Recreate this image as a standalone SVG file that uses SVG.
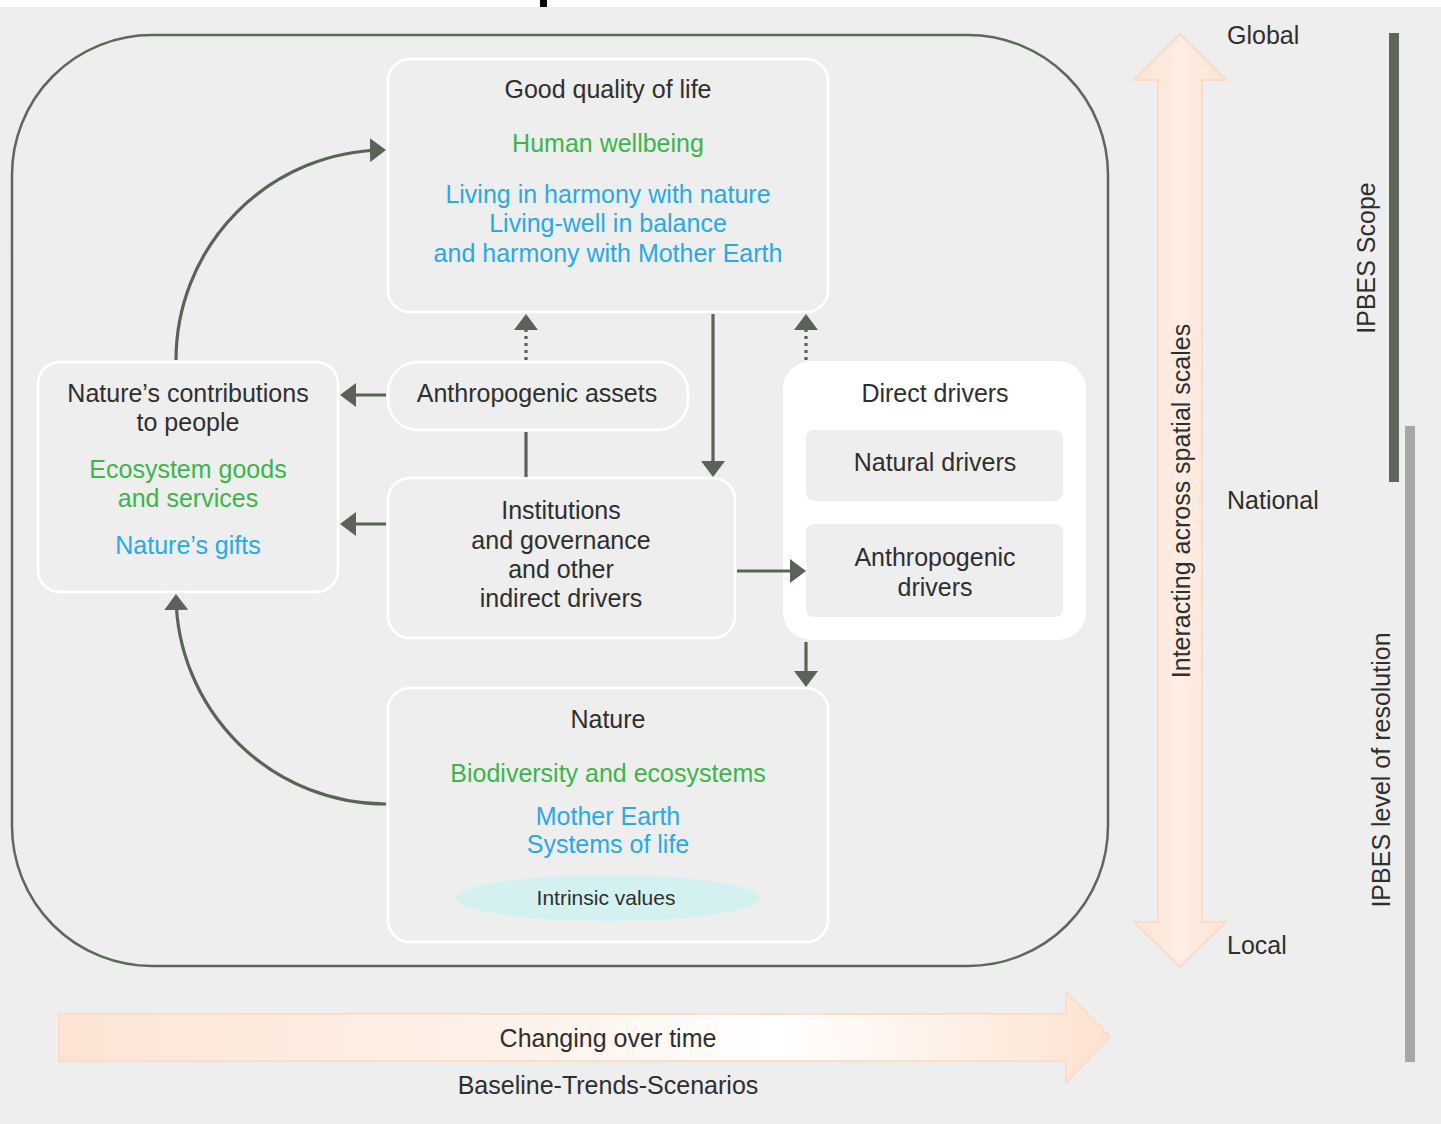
<svg xmlns="http://www.w3.org/2000/svg" width="1441" height="1124" viewBox="0 0 1441 1124">
<style>
text{font-family:"Liberation Sans",Arial,sans-serif;font-size:25px;fill:#2f2f2f;text-anchor:middle}
.g{fill:#3cb54a}
.b{fill:#29aae2}
.l{text-anchor:start}
.box{fill:none;stroke:#ffffff;stroke-width:2.5}
.inner{fill:#eeeeee;stroke:none}
.con{fill:none;stroke:#5b6257;stroke-width:3.2}
.dot{stroke-dasharray:3,4}
</style>
<defs>
<marker id="ah" markerUnits="userSpaceOnUse" markerWidth="17" markerHeight="24" refX="13" refY="12" orient="auto">
<path d="M0,0 L16,12 L0,24 z" fill="#5b6257"/>
</marker>
<linearGradient id="hg" x1="59" y1="0" x2="1110" y2="0" gradientUnits="userSpaceOnUse">
<stop offset="0" stop-color="#fde4d4"/>
<stop offset="0.45" stop-color="#fef2ea"/>
<stop offset="0.68" stop-color="#ffffff"/>
<stop offset="1" stop-color="#fde2d0"/>
</linearGradient>
<linearGradient id="vg" x1="1134" y1="0" x2="1226" y2="0" gradientUnits="userSpaceOnUse">
<stop offset="0" stop-color="#fde4d5"/>
<stop offset="0.5" stop-color="#fdede4"/>
<stop offset="1" stop-color="#fde4d5"/>
</linearGradient>
</defs>

<rect x="0" y="0" width="1441" height="1124" fill="#ffffff"/>
<rect x="0" y="7" width="1441" height="1117" fill="#edeeed"/>
<rect x="540" y="0" width="7" height="7" fill="#000000"/>

<g id="frame">
<rect x="12" y="35" width="1096" height="931" rx="140" ry="140" fill="none" stroke="#5f665d" stroke-width="2.5"/>
</g>

<g id="scale-arrow">
<polygon points="1180,34 1226,80 1202,80 1202,922 1226,922 1180,967 1134,922 1158,922 1158,80 1134,80" fill="url(#vg)" stroke="#fcdac7" stroke-width="2"/>
<text transform="translate(1190,501) rotate(-90)">Interacting across spatial scales</text>
</g>

<g id="time-arrow">
<polygon points="59,1014 1066,1014 1066,992 1110,1037 1066,1083 1066,1061 59,1061" fill="url(#hg)" stroke="#fcdcc9" stroke-width="2"/>
<text x="608" y="1047">Changing over time</text>
<text x="608" y="1094">Baseline-Trends-Scenarios</text>
</g>

<g id="scale-labels">
<text class="l" x="1227" y="44">Global</text>
<text class="l" x="1227" y="509">National</text>
<text class="l" x="1227" y="954">Local</text>
</g>

<g id="ipbes-scope">
<rect x="1389" y="33" width="10" height="449" fill="#5e665b"/>
<text transform="translate(1375,258) rotate(-90)">IPBES Scope</text>
</g>
<g id="ipbes-resolution">
<rect x="1405" y="426" width="10" height="636" fill="#a5a8a2"/>
<text transform="translate(1390,770) rotate(-90)">IPBES level of resolution</text>
</g>

<g id="good-quality-of-life">
<rect class="box" x="388" y="59" width="440" height="253" rx="22"/>
<text x="608" y="98">Good quality of life</text>
<text class="g" x="608" y="152">Human wellbeing</text>
<text class="b" x="608" y="203">Living in harmony with nature</text>
<text class="b" x="608" y="232">Living-well in balance</text>
<text class="b" x="608" y="262">and harmony with Mother Earth</text>
</g>

<g id="natures-contributions">
<rect class="box" x="38" y="362" width="300" height="230" rx="22"/>
<text x="188" y="402">Nature’s contributions</text>
<text x="188" y="431">to people</text>
<text class="g" x="188" y="478">Ecosystem goods</text>
<text class="g" x="188" y="507">and services</text>
<text class="b" x="188" y="554">Nature’s gifts</text>
</g>

<g id="anthropogenic-assets">
<rect class="box" x="388" y="362" width="300" height="68" rx="30"/>
<text x="537" y="402">Anthropogenic assets</text>
</g>

<g id="institutions">
<rect class="box" x="388" y="478" width="347" height="160" rx="22"/>
<text x="561" y="519">Institutions</text>
<text x="561" y="549">and governance</text>
<text x="561" y="578">and other</text>
<text x="561" y="607">indirect drivers</text>
</g>

<g id="direct-drivers">
<rect x="783" y="361" width="303" height="279" rx="28" fill="#ffffff"/>
<text x="935" y="402">Direct drivers</text>
<g id="natural-drivers">
<rect class="inner" x="806" y="430" width="257" height="71" rx="8"/>
<text x="935" y="471">Natural drivers</text>
</g>
<g id="anthropogenic-drivers">
<rect class="inner" x="806" y="524" width="257" height="93" rx="8"/>
<text x="935" y="566">Anthropogenic</text>
<text x="935" y="596">drivers</text>
</g>
</g>

<g id="nature">
<rect class="box" x="388" y="688" width="440" height="254" rx="22"/>
<text x="608" y="728">Nature</text>
<text class="g" x="608" y="782">Biodiversity and ecosystems</text>
<text class="b" x="608" y="825">Mother Earth</text>
<text class="b" x="608" y="853">Systems of life</text>
<ellipse cx="608" cy="898" rx="152" ry="23" fill="#d3f1f1"/>
<text x="606" y="905" style="font-size:21px">Intrinsic values</text>
</g>

<g id="connectors">
<path class="con" d="M176,360 A210,210 0 0 1 383,150" marker-end="url(#ah)"/>
<path class="con" d="M386,804 A210,210 0 0 1 176,597" marker-end="url(#ah)"/>
<path class="con" d="M386,395 L343,395" marker-end="url(#ah)"/>
<path class="con" d="M386,524 L343,524" marker-end="url(#ah)"/>
<path class="con dot" d="M526,360 L526,317" marker-end="url(#ah)"/>
<path class="con dot" d="M806,360 L806,317" marker-end="url(#ah)"/>
<path class="con" d="M713,314 L713,474" marker-end="url(#ah)"/>
<path class="con" d="M526,432 L526,477"/>
<path class="con" d="M737,571 L803,571" marker-end="url(#ah)"/>
<path class="con" d="M806,642 L806,684" marker-end="url(#ah)"/>
</g>
</svg>
